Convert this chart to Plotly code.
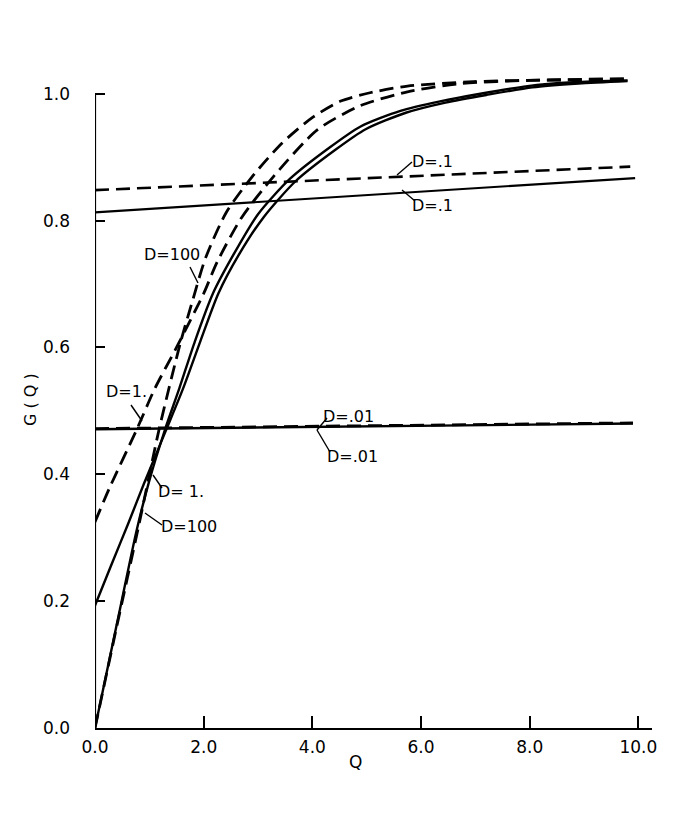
import plotly.graph_objects as go

# ---- data ----
# D=100, dashed
q_d100_dash = [0, 0.4, 0.79, 1.18, 1.58, 1.80, 2.03, 2.41, 2.89, 3.44, 4.01, 4.51, 5.06, 5.75, 6.96, 8.56, 9.8]
g_d100_dash = [0, 0.16, 0.313, 0.471, 0.61, 0.675, 0.74, 0.812, 0.869, 0.922, 0.963, 0.988, 1.0015, 1.012, 1.019, 1.022, 1.024]
# D=1, dashed
q_d1_dash = [0, 0.28, 0.77, 1.1, 1.5, 2.0, 2.25, 2.7, 3.28, 4.09, 4.88, 5.75, 6.72, 8.0, 9.8]
g_d1_dash = [0.325, 0.381, 0.471, 0.535, 0.60, 0.685, 0.735, 0.805, 0.869, 0.943, 0.981, 1.003, 1.016, 1.021, 1.022]
# D=100, solid
q_d100_sol = [0, 0.4, 0.77, 1.0, 1.29, 1.55, 1.84, 2.17, 2.54, 3.0, 3.59, 4.33, 4.88, 5.62, 6.35, 7.09, 7.96, 8.8, 9.8]
g_d100_sol = [0, 0.163, 0.313, 0.39, 0.471, 0.535, 0.61, 0.685, 0.745, 0.81, 0.866, 0.916, 0.948, 0.973, 0.988, 1.0, 1.012, 1.018, 1.021]
# D=1, solid
q_d1_sol = [0, 0.3, 0.61, 0.9, 1.3, 1.62, 1.94, 2.27, 2.64, 3.1, 3.69, 4.43, 4.98, 5.72, 6.45, 7.2, 8.05, 8.9, 9.8]
g_d1_sol = [0.193, 0.257, 0.322, 0.385, 0.468, 0.535, 0.61, 0.685, 0.745, 0.805, 0.862, 0.912, 0.944, 0.97, 0.986, 0.998, 1.01, 1.016, 1.02]
# D=.1
q_d01_dash = [0, 9.85]
g_d01_dash = [0.848, 0.885]
q_d01_sol = [0, 9.94]
g_d01_sol = [0.813, 0.867]
# D=.01
q_d001_dash = [0, 9.9]
g_d001_dash = [0.472, 0.481]
q_d001_sol = [0, 9.9]
g_d001_sol = [0.471, 0.480]

x_ticks = [0, 2, 4, 6, 8, 10]
x_tick_text = ["0.0", "2.0", "4.0", "6.0", "8.0", "10.0"]
y_ticks = [0, 0.2, 0.4, 0.6, 0.8, 1.0]
y_tick_text = ["0.0", "0.2", "0.4", "0.6", "0.8", "1.0"]

FONT = "DejaVu Sans"
DASH = "14px,7px"

fig = go.Figure()

def add(q, g, dash, width):
    fig.add_trace(go.Scatter(x=q, y=g, mode="lines",
                             line=dict(color="black", width=width, dash=dash,
                                       shape="spline", smoothing=0.7),
                             showlegend=False, hoverinfo="skip"))

add(q_d001_sol, g_d001_sol, "solid", 2.4)
add(q_d001_dash, g_d001_dash, DASH, 2.8)
add(q_d01_sol, g_d01_sol, "solid", 2.2)
add(q_d01_dash, g_d01_dash, DASH, 2.6)
add(q_d100_sol, g_d100_sol, "solid", 2.4)
add(q_d1_sol, g_d1_sol, "solid", 2.4)
add(q_d100_dash, g_d100_dash, DASH, 2.8)
add(q_d1_dash, g_d1_dash, DASH, 2.8)

# page has an 8px body margin; positions below are screen pixels
OFF = 8
W, H = 682 - 2 * OFF, 823 - 2 * OFF
L, R, T, B = 95, 652, 62, 728
def px(xp):
    return (xp - L) / (R - L)
def py(yp):
    return (B - yp) / (B - T)

labels = [
    ("D=.1", 432, 161),
    ("D=.1", 432, 205),
    ("D=100", 172, 255),
    ("D=1.", 126, 391),
    ("D=.01", 348, 416),
    ("D=.01", 352, 456),
    ("D= 1.", 181, 491),
    ("D=100", 189, 526),
]
for txt, xp, yp in labels:
    fig.add_annotation(text=txt, x=px(xp), y=py(yp), xref="paper", yref="paper",
                       xanchor="center", yanchor="middle",
                       showarrow=False, font=dict(family=FONT, size=16, color="black"))

leaders = [
    (397, 175, 412, 162),
    (402, 190, 415, 201),
    (190, 267, 198, 283),
    (131, 405, 142, 421),
    (327, 418, 317, 430),
    (317, 430, 330, 452),
    (162, 488, 153, 475),
    (162, 525, 145, 513),
]
for x0, y0, x1, y1 in leaders:
    fig.add_shape(type="line", xref="paper", yref="paper",
                  x0=px(x0), y0=py(y0), x1=px(x1), y1=py(y1),
                  line=dict(color="black", width=1.4))

# y axis line only up to 1.0
fig.add_shape(type="line", xref="x", yref="y", x0=0, y0=0, x1=0, y1=1.0,
              line=dict(color="black", width=2.2))

# axis titles
fig.add_annotation(text="Q", x=px(355), y=py(762), xref="paper", yref="paper",
                   xanchor="center", yanchor="middle",
                   showarrow=False, font=dict(family=FONT, size=17, color="black"))
fig.add_annotation(text="G ( Q )", x=px(30), y=py(400), xref="paper", yref="paper",
                   xanchor="center", yanchor="middle",
                   showarrow=False, textangle=-90,
                   font=dict(family=FONT, size=16, color="black"))

fig.update_layout(
    width=W, height=H,
    margin=dict(l=L - OFF, r=W - (R - OFF), t=T - OFF, b=H - (B - OFF)),
    paper_bgcolor="white", plot_bgcolor="white",
    font=dict(family=FONT, size=17, color="black"),
)
fig.update_xaxes(range=[0, 10.25], tickvals=x_ticks, ticktext=x_tick_text,
                 ticks="inside", ticklen=12, tickwidth=2, tickcolor="black",
                 showline=True, linecolor="black", linewidth=2.2,
                 showgrid=False, zeroline=False, ticklabelstandoff=2,
                 tickfont=dict(family=FONT, size=17))
fig.update_yaxes(range=[0, 1.05], tickvals=y_ticks, ticktext=y_tick_text,
                 ticks="inside", ticklen=10, tickwidth=2, tickcolor="black",
                 showline=False, showgrid=False, zeroline=False, ticklabelstandoff=24,
                 tickfont=dict(family=FONT, size=17))

fig.write_html("out.html")
